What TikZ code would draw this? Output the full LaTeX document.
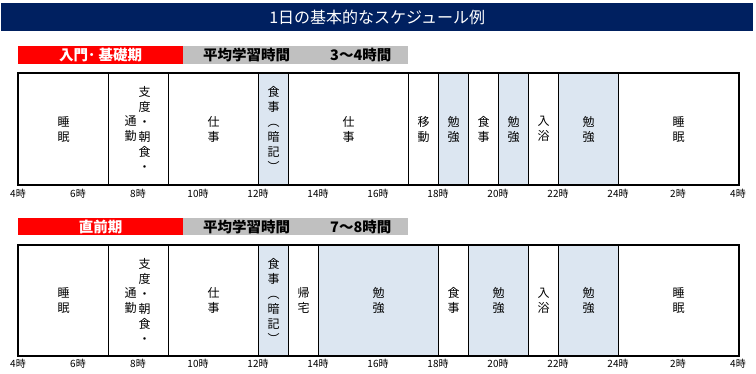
\documentclass[tikz,border=0pt]{standalone}
\usepackage{fontspec}
\setmainfont{Noto Sans CJK JP}
\definecolor{navy}{HTML}{002060}
\definecolor{hdrred}{HTML}{FF0000}
\definecolor{hdrgray}{HTML}{C0C0C0}
\definecolor{study}{HTML}{DCE6F1}
\tikzset{
  seg/.style={draw=black, line width=1pt, anchor=north west, inner sep=0pt,
    align=center, font=\fontsize{12}{15}\selectfont},
  coltext/.style={align=center, inner sep=0pt, font=\fontsize{12}{15}\selectfont},
  tick/.style={font=\fontsize{10}{10}\selectfont, inner sep=0pt},
  frame/.style={draw=black, line width=2pt},
  hdrtext/.style={font=\bfseries\fontsize{14.5}{15}\selectfont, inner sep=0pt},
}
\begin{document}
\begin{tikzpicture}[x=1pt,y=-1pt]
\useasboundingbox (0,0) rectangle (756,373);
% title
\node[fill=navy, minimum width=752pt, minimum height=28pt, anchor=north west, inner sep=0pt,
  text=white, font=\fontsize{16}{17}\selectfont] (title) at (1,3) {1日の基本的なスケジュール例};

% ---------- Section 1 ----------
\node[fill=hdrred, minimum width=165pt, minimum height=18pt, anchor=north west, inner sep=0pt] (r1) at (18,46) {};
\node[fill=hdrgray, minimum width=225pt, minimum height=18pt, anchor=north west, inner sep=0pt] (g1) at (183,46) {};
\node[hdrtext, text=white] (r1t) at (r1.center) {入門･ 基礎期};
\node[hdrtext, anchor=west] (g1a) at (203,55) {平均学習時間};
\node[hdrtext, anchor=west] (g1b) at (330,55) {3～4時間};

\def\T{73}\def\H{111}
\node[seg, minimum width=90pt, minimum height=\H pt] (a1) at (18,\T) {睡\\眠};
\node[seg, minimum width=60pt, minimum height=\H pt] (a2) at (108,\T) {};
\node[coltext] (a2r) at ([xshift=6pt]a2.center) {支\\度\\・\\朝\\食\\・};
\node[coltext] (a2l) at ([xshift=-8pt]a2.center) {通\\勤};
\node[seg, minimum width=90pt, minimum height=\H pt] (a3) at (168,\T) {仕\\事};
\node[seg, fill=study, minimum width=30pt, minimum height=\H pt] (a4) at (258,\T) {食\\事\\︵\\暗\\記\\︶};
\node[seg, minimum width=120pt, minimum height=\H pt] (a5) at (288,\T) {仕\\事};
\node[seg, minimum width=30pt, minimum height=\H pt] (a6) at (408,\T) {移\\動};
\node[seg, fill=study, minimum width=30pt, minimum height=\H pt] (a7) at (438,\T) {勉\\強};
\node[seg, minimum width=30pt, minimum height=\H pt] (a8) at (468,\T) {食\\事};
\node[seg, fill=study, minimum width=30pt, minimum height=\H pt] (a9) at (498,\T) {勉\\強};
\node[seg, minimum width=30pt, minimum height=\H pt] (a10) at (528,\T) {入\\浴};
\node[seg, fill=study, minimum width=60pt, minimum height=\H pt] (a11) at (558,\T) {勉\\強};
\node[seg, minimum width=120pt, minimum height=\H pt] (a12) at (618,\T) {睡\\眠};
\draw[frame] (a1.north west) rectangle (a12.south east);

\foreach \h/\lab [count=\i] in {4/4時,6/6時,8/8時,10/10時,12/12時,14/14時,16/16時,18/18時,20/20時,22/22時,24/24時,26/2時,28/4時}
  \node[tick] (t1-\i) at ({18+30*(\h-4)},194) {\lab};

% ---------- Section 2 ----------
\node[fill=hdrred, minimum width=165pt, minimum height=17pt, anchor=north west, inner sep=0pt] (r2) at (18,218) {};
\node[fill=hdrgray, minimum width=225pt, minimum height=17pt, anchor=north west, inner sep=0pt] (g2) at (183,218) {};
\node[hdrtext, text=white] (r2t) at (r2.center) {直前期};
\node[hdrtext, anchor=west] (g2a) at (203,226.5) {平均学習時間};
\node[hdrtext, anchor=west] (g2b) at (330,226.5) {7～8時間};

\def\T{245}\def\H{110}
\node[seg, minimum width=90pt, minimum height=\H pt] (b1) at (18,\T) {睡\\眠};
\node[seg, minimum width=60pt, minimum height=\H pt] (b2) at (108,\T) {};
\node[coltext] (b2r) at ([xshift=6pt]b2.center) {支\\度\\・\\朝\\食\\・};
\node[coltext] (b2l) at ([xshift=-8pt]b2.center) {通\\勤};
\node[seg, minimum width=90pt, minimum height=\H pt] (b3) at (168,\T) {仕\\事};
\node[seg, fill=study, minimum width=30pt, minimum height=\H pt] (b4) at (258,\T) {食\\事\\︵\\暗\\記\\︶};
\node[seg, minimum width=30pt, minimum height=\H pt] (b5) at (288,\T) {帰\\宅};
\node[seg, fill=study, minimum width=120pt, minimum height=\H pt] (b6) at (318,\T) {勉\\強};
\node[seg, minimum width=30pt, minimum height=\H pt] (b7) at (438,\T) {食\\事};
\node[seg, fill=study, minimum width=60pt, minimum height=\H pt] (b8) at (468,\T) {勉\\強};
\node[seg, minimum width=30pt, minimum height=\H pt] (b9) at (528,\T) {入\\浴};
\node[seg, fill=study, minimum width=60pt, minimum height=\H pt] (b10) at (558,\T) {勉\\強};
\node[seg, minimum width=120pt, minimum height=\H pt] (b11) at (618,\T) {睡\\眠};
\draw[frame] (b1.north west) rectangle (b11.south east);

\foreach \h/\lab [count=\i] in {4/4時,6/6時,8/8時,10/10時,12/12時,14/14時,16/16時,18/18時,20/20時,22/22時,24/24時,26/2時,28/4時}
  \node[tick] (t2-\i) at ({18+30*(\h-4)},364) {\lab};
\end{tikzpicture}
\end{document}
